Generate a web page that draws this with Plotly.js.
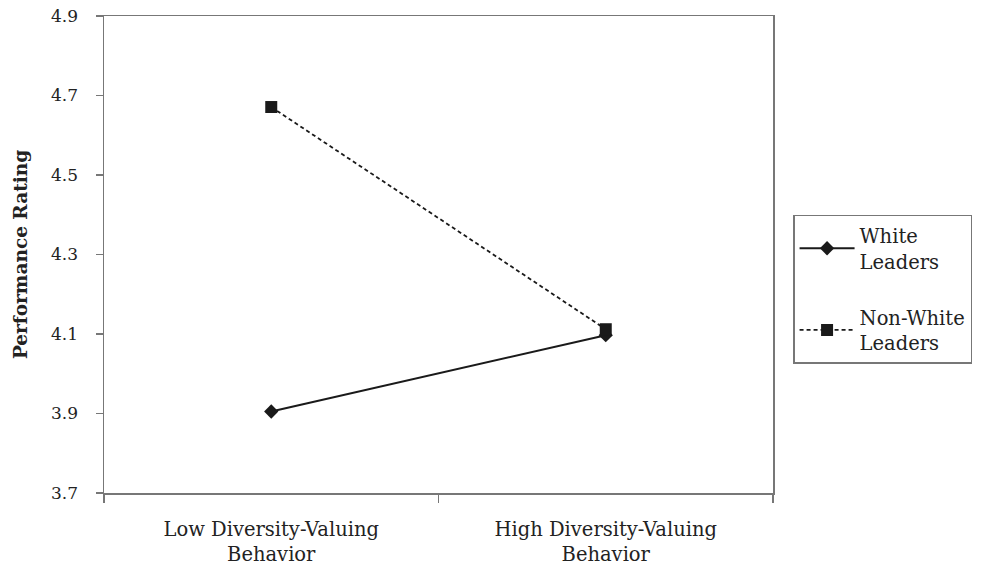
<!DOCTYPE html>
<html>
<head>
<meta charset="utf-8">
<script src="https://cdn.plot.ly/plotly-3.0.1.min.js"></script>
<style>html,body{margin:0;padding:0;background:#fff;}#chart{width:985px;height:567px;}</style>
</head>
<body>
<div id="chart"></div>
<script>
const categories = ["Low Diversity-Valuing<br>Behavior", "High Diversity-Valuing<br>Behavior"];
const whiteLeaders = [3.905, 4.097];
const nonWhiteLeaders = [4.671, 4.112];
const seriesNames = ["White<br>Leaders", "Non-White<br>Leaders"];
const yTicks = [3.7, 3.9, 4.1, 4.3, 4.5, 4.7, 4.9];

const font = "DejaVu Serif";

const traces = [
  {
    x: categories, y: whiteLeaders, name: seriesNames[0], type: "scatter", mode: "lines+markers",
    legendgroup: "a",
    line: {color: "#1a1a1a", width: 2},
    marker: {symbol: "diamond", size: 11, color: "#1a1a1a"}
  },
  {
    x: categories, y: nonWhiteLeaders, name: seriesNames[1], type: "scatter", mode: "lines+markers",
    legendgroup: "b",
    line: {color: "#1a1a1a", width: 1.8, dash: "4px,3px"},
    marker: {symbol: "square", size: 12, color: "#1a1a1a"}
  }
];

const layout = {
  width: 985, height: 567,
  margin: {l: 104, r: 212, t: 16, b: 74},
  paper_bgcolor: "#fff", plot_bgcolor: "#fff",
  font: {family: font, size: 17, color: "#222"},
  showlegend: true,
  legend: {
    x: 1.03, y: 0.583, xanchor: "left", yanchor: "top",
    bordercolor: "#777", borderwidth: 1.5, bgcolor: "#fff",
    font: {family: font, size: 19.5, color: "#222"},
    traceorder: "grouped", tracegroupgap: 28, itemwidth: 55
  },
  xaxis: {
    type: "category", range: [-0.5, 1.5], tickson: "boundaries",
    showline: true, mirror: true, linecolor: "#777", linewidth: 1.5,
    ticks: "outside", ticklen: 8, tickcolor: "#777", tickwidth: 1.5,
    showgrid: false, zeroline: false, ticklabelstandoff: 18,
    tickfont: {family: font, size: 19.5, color: "#222"}
  },
  yaxis: {
    range: [3.7, 4.9], tickvals: yTicks, tickformat: ".1f",
    showline: true, mirror: true, linecolor: "#777", linewidth: 1.5,
    ticks: "outside", ticklen: 7, tickcolor: "#777", tickwidth: 1.5,
    showgrid: false, zeroline: false, ticklabelstandoff: 14,
    tickfont: {family: font, size: 17, color: "#222"},
    title: {text: "<b>Performance Rating</b>", font: {family: font, size: 18.5, color: "#222"}, standoff: 18}
  }
};

Plotly.newPlot("chart", traces, layout, {displayModeBar: false, staticPlot: true});
</script>
</body>
</html>
